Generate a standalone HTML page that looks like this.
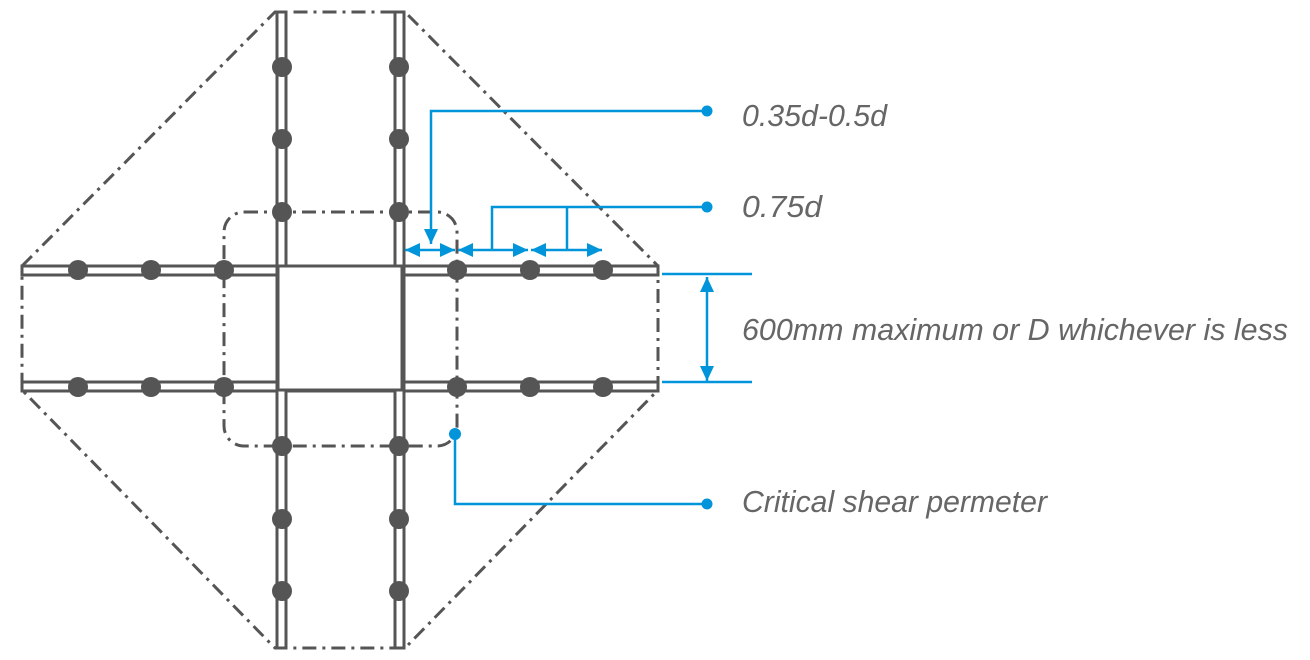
<!DOCTYPE html>
<html><head><meta charset="utf-8"><style>html,body{margin:0;padding:0;background:#fff}svg{display:block}</style></head>
<body>
<svg width="1310" height="660" viewBox="0 0 1310 660" xmlns="http://www.w3.org/2000/svg">
<defs>
<marker id="ah" viewBox="0 0 10 10" refX="10" refY="5" markerWidth="6" markerHeight="5.6" orient="auto-start-reverse" markerUnits="strokeWidth" preserveAspectRatio="none"><path d="M0,0 L10,5 L0,10 z" fill="#0095DA"/></marker>
</defs>
<g fill="none" stroke="#555" stroke-width="3" stroke-dasharray="14,6,3,6">
<path d="M22,266 L275,12 L405,12 L658,266 L658,390 L405,648 L275,648 L22,390 Z"/>
<rect x="224" y="212" width="233" height="234" rx="20"/>
</g>
<g fill="#fff" stroke="#555" stroke-width="3">
<rect x="22" y="266" width="636" height="9"/>
<rect x="22" y="382" width="636" height="9"/>
<rect x="277" y="12" width="9" height="636"/>
<rect x="395" y="12" width="9" height="636"/>
<rect x="278" y="266" width="124" height="124"/>
</g>
<g fill="#555">
<circle cx="78" cy="270" r="10"/><circle cx="151" cy="270" r="10"/><circle cx="224" cy="270" r="10"/>
<circle cx="457" cy="270" r="10"/><circle cx="530" cy="270" r="10"/><circle cx="603" cy="270" r="10"/>
<circle cx="78" cy="387" r="10"/><circle cx="151" cy="387" r="10"/><circle cx="224" cy="387" r="10"/>
<circle cx="457" cy="387" r="10"/><circle cx="530" cy="387" r="10"/><circle cx="603" cy="387" r="10"/>
<circle cx="282" cy="67" r="10"/><circle cx="282" cy="139" r="10"/><circle cx="282" cy="212" r="10"/>
<circle cx="399" cy="67" r="10"/><circle cx="399" cy="139" r="10"/><circle cx="399" cy="212" r="10"/>
<circle cx="282" cy="446" r="10"/><circle cx="282" cy="519" r="10"/><circle cx="282" cy="591" r="10"/>
<circle cx="399" cy="446" r="10"/><circle cx="399" cy="519" r="10"/><circle cx="399" cy="591" r="10"/>
</g>
<g fill="none" stroke="#0095DA" stroke-width="2.5">
<path d="M707,111 L431,111 L431,244" marker-end="url(#ah)"/>
<line x1="405" y1="250" x2="455" y2="250" marker-start="url(#ah)" marker-end="url(#ah)"/>
<line x1="458" y1="250" x2="528" y2="250" marker-start="url(#ah)" marker-end="url(#ah)"/>
<line x1="531" y1="250" x2="602" y2="250" marker-start="url(#ah)" marker-end="url(#ah)"/>
<path d="M707,207 L492,207 L492,250 M567,207 L567,250"/>
<path d="M662,274 L752,274 M662,382 L752,382"/>
<line x1="707" y1="277" x2="707" y2="381" marker-start="url(#ah)" marker-end="url(#ah)"/>
<path d="M455,434 L455,504 L707,504"/>
</g>
<g fill="#0095DA">
<circle cx="707" cy="111" r="5.5"/><circle cx="707" cy="207" r="5.5"/><circle cx="707" cy="504" r="5.5"/><circle cx="455" cy="434" r="6"/>
</g>
<g fill="#666" font-family="Liberation Sans, sans-serif" font-style="italic" font-size="31">
<text x="742" y="126" textLength="145" lengthAdjust="spacingAndGlyphs">0.35d-0.5d</text>
<text x="742" y="217" textLength="80" lengthAdjust="spacingAndGlyphs">0.75d</text>
<text x="742" y="340" textLength="546" lengthAdjust="spacingAndGlyphs">600mm maximum or D whichever is less</text>
<text x="742" y="512" textLength="305" lengthAdjust="spacingAndGlyphs">Critical shear permeter</text>
</g>
</svg>
</body></html>
